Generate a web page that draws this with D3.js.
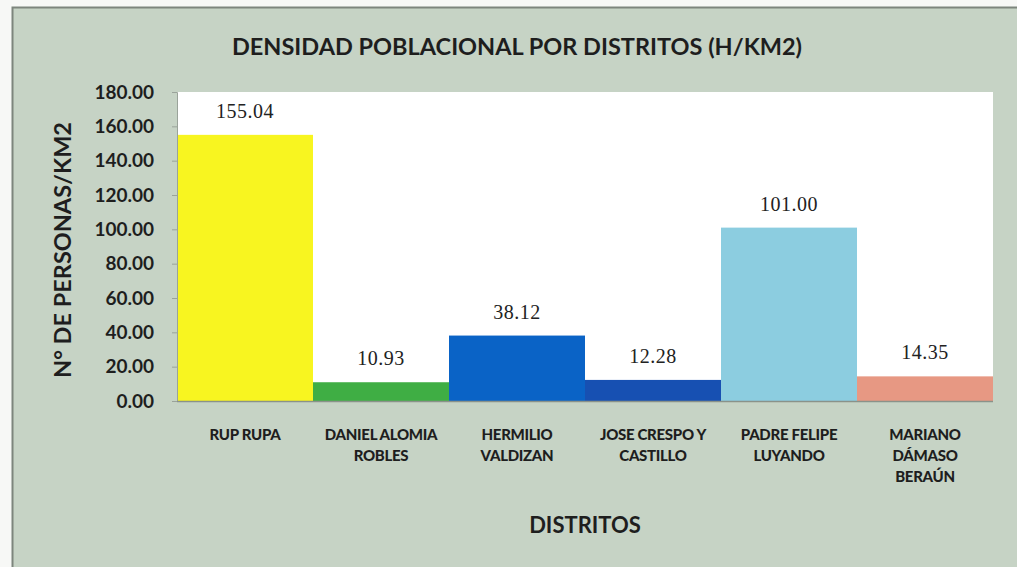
<!DOCTYPE html>
<html>
<head>
<meta charset="utf-8">
<script src="https://cdn.jsdelivr.net/npm/d3@7"></script>
<style>
  body { margin: 0; background: #f7f8f6; }
  svg { display: block; }
</style>
</head>
<body>
<svg class="chart" width="1017" height="567"></svg>
<script>
// data
let districts = [
    ["RUP RUPA"],
    ["DANIEL ALOMIA", "ROBLES"],
    ["HERMILIO", "VALDIZAN"],
    ["JOSE CRESPO Y", "CASTILLO"],
    ["PADRE FELIPE", "LUYANDO"],
    ["MARIANO", "DÁMASO", "BERAÚN"]
];
let density = [155.04, 10.93, 38.12, 12.28, 101.00, 14.35];
let barColors = ["#f8f520", "#3fae44", "#0a63c6", "#1750b2", "#8ccde0", "#e79883"];
let yTicks = [0, 20, 40, 60, 80, 100, 120, 140, 160, 180];

let width = 1017;
let height = 567;
let plotLeft = 177, plotRight = 993, plotTop = 92, plotBottom = 401;

let svg = d3.select(".chart");
let sansFont = "Lato, 'Open Sans', sans-serif";
let serifFont = "'Liberation Serif', 'DejaVu Serif', serif";

// panel background with frame
svg.append("rect")
    .attr("x", 12.5)
    .attr("y", 7.5)
    .attr("width", width)
    .attr("height", height)
    .attr("fill", "#c6d3c5")
    .attr("stroke", "#7d857d")
    .attr("stroke-width", 2);

// plot area
svg.append("rect")
    .attr("x", plotLeft)
    .attr("y", plotTop)
    .attr("width", plotRight - plotLeft)
    .attr("height", plotBottom - plotTop)
    .attr("fill", "#ffffff");

let keys = districts.map(function(d) { return d.join(" "); });

let xScale = d3.scaleBand()
    .domain(keys)
    .range([plotLeft, plotRight])
    .padding(0);

let yScale = d3.scaleLinear()
    .domain([0, 180])
    .range([plotBottom, plotTop]);

// bars
svg.selectAll(".bar")
    .data(density)
    .enter()
    .append("rect")
    .attr("class", "bar")
    .attr("x", function(d, i) { return xScale(keys[i]); })
    .attr("y", function(d) { return yScale(d); })
    .attr("width", xScale.bandwidth())
    .attr("height", function(d) { return yScale(0) - yScale(d); })
    .attr("fill", function(d, i) { return barColors[i]; });

// value labels
svg.selectAll(".valueLabel")
    .data(density)
    .enter()
    .append("text")
    .attr("class", "valueLabel")
    .attr("x", function(d, i) { return xScale(keys[i]) + xScale.bandwidth() / 2; })
    .attr("y", function(d) { return yScale(d) - 17; })
    .attr("text-anchor", "middle")
    .style("font-family", serifFont)
    .style("font-size", "20px")
    .style("letter-spacing", "0.5px")
    .style("fill", "#222")
    .text(function(d) { return d.toFixed(2); });

// y axis
let yAxis = svg.append("g")
    .attr("class", "y_axis")
    .attr("transform", "translate(" + plotLeft + ",0)")
    .call(d3.axisLeft(yScale).tickValues(yTicks).tickSize(5).tickPadding(18)
        .tickFormat(function(d) { return d.toFixed(2); }));
yAxis.select(".domain").attr("stroke", "#9aa39a");
yAxis.selectAll(".tick line").attr("stroke", "#9aa39a");
yAxis.selectAll("text")
    .style("font-family", sansFont)
    .style("font-weight", "bold")
    .style("font-size", "19px")
    .style("fill", "#1e1e1e");

// x axis line
svg.append("line")
    .attr("x1", plotLeft)
    .attr("x2", plotRight)
    .attr("y1", plotBottom + 0.5)
    .attr("y2", plotBottom + 0.5)
    .attr("stroke", "#8a928a")
    .attr("stroke-width", 1.5);

// category labels
districts.forEach(function(lines, i) {
    let label = svg.append("text")
        .attr("x", xScale(keys[i]) + xScale.bandwidth() / 2)
        .attr("y", 440)
        .attr("text-anchor", "middle")
        .style("font-family", sansFont)
        .style("font-weight", "900")
        .style("font-size", "15px")
        .style("letter-spacing", "-0.3px")
        .style("fill", "#1e1e1e");
    lines.forEach(function(line, j) {
        label.append("tspan")
            .attr("x", xScale(keys[i]) + xScale.bandwidth() / 2)
            .attr("dy", j === 0 ? 0 : 21)
            .text(line);
    });
});

// axis titles
svg.append("text")
    .attr("x", (plotLeft + plotRight) / 2)
    .attr("y", 533)
    .attr("text-anchor", "middle")
    .style("font-family", sansFont)
    .style("font-weight", "bold")
    .style("font-size", "22px")
    .style("fill", "#1e1e1e")
    .text("DISTRITOS");

svg.append("text")
    .attr("transform", "translate(71,250) rotate(-90)")
    .attr("text-anchor", "middle")
    .style("font-family", sansFont)
    .style("font-weight", "bold")
    .style("font-size", "23.5px")
    .style("fill", "#1e1e1e")
    .text("N° DE PERSONAS/KM2");

// title
svg.append("text")
    .attr("x", 517)
    .attr("y", 55)
    .attr("text-anchor", "middle")
    .style("font-family", sansFont)
    .style("font-weight", "bold")
    .style("font-size", "23.5px")
    .style("fill", "#1e1e1e")
    .text("DENSIDAD POBLACIONAL POR DISTRITOS (H/KM2)");
</script>
</body>
</html>
